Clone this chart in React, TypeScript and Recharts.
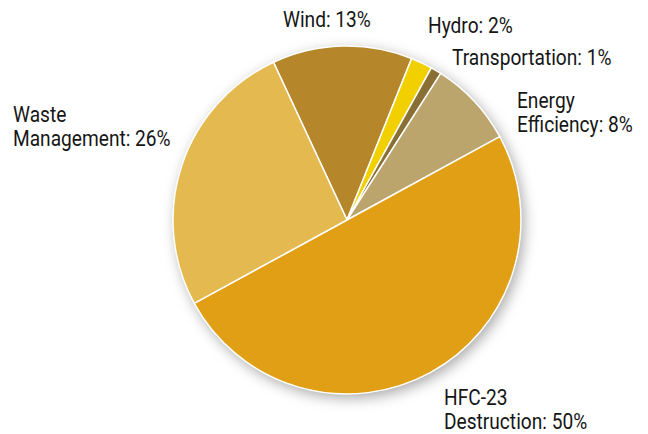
import { PieChart, Pie, Cell } from 'recharts';

const names = ['Wind', 'Hydro', 'Transportation', 'Energy Efficiency', 'HFC-23 Destruction', 'Waste Management'];
const shares = [13, 2, 1, 8, 50, 26];
const colors = ['#B5862A', '#F2D000', '#8A6F35', '#BCA56C', '#E09F14', '#E4B94F'];

// label text lines and where each label block sits
const labelLines: string[][] = [
  ['Wind: 13%'],
  ['Hydro: 2%'],
  ['Transportation: 1%'],
  ['Energy', 'Efficiency: 8%'],
  ['HFC-23', 'Destruction: 50%'],
  ['Waste', 'Management: 26%'],
];
const labelAt: [number, number][] = [
  [283, 27],
  [428, 33],
  [452, 65],
  [517, 108],
  [444, 405],
  [13, 122],
];

const data = names.map((name, i) => ({ name, value: shares[i] }));

const CX = 347;
const CY = 220;
const R = 174;
const FONT = 'Roboto, "Liberation Sans", Arial, sans-serif';

// condensed look: draw at 22px and squeeze horizontally
function renderLabel(props: any) {
  const i = props.index;
  const [x, y] = labelAt[i];
  return (
    <g key={i} transform={`translate(${x},${y}) scale(0.87,1)`}>
      <text x={0} y={0} fill="#161616" fontSize={22} fontFamily={FONT}>
        {labelLines[i].map((line, j) => (
          <tspan key={j} x={0} y={j * 24}>
            {line}
          </tspan>
        ))}
      </text>
    </g>
  );
}

export default function App() {
  return (
    <div style={{ position: 'absolute', left: 0, top: 0, width: 648, height: 434, background: '#fff' }}>
      <div
        style={{
          position: 'absolute',
          left: CX - R,
          top: CY - R,
          width: R * 2,
          height: R * 2,
          borderRadius: '50%',
          boxShadow: '3px 4px 14px rgba(0,0,0,0.35)',
        }}
      />
      <div style={{ position: 'absolute', left: 0, top: 0 }}>
        <PieChart width={648} height={434} margin={{ top: 0, right: 0, bottom: 0, left: 0 }}>
          <Pie
            data={data}
            dataKey="value"
            nameKey="name"
            cx={CX}
            cy={CY}
            outerRadius={R}
            startAngle={115}
            endAngle={-245}
            stroke="#fff"
            strokeWidth={1.5}
            label={renderLabel}
            labelLine={false}
            isAnimationActive={false}
          >
            {data.map((d, i) => (
              <Cell key={d.name} fill={colors[i]} />
            ))}
          </Pie>
        </PieChart>
      </div>
    </div>
  );
}
